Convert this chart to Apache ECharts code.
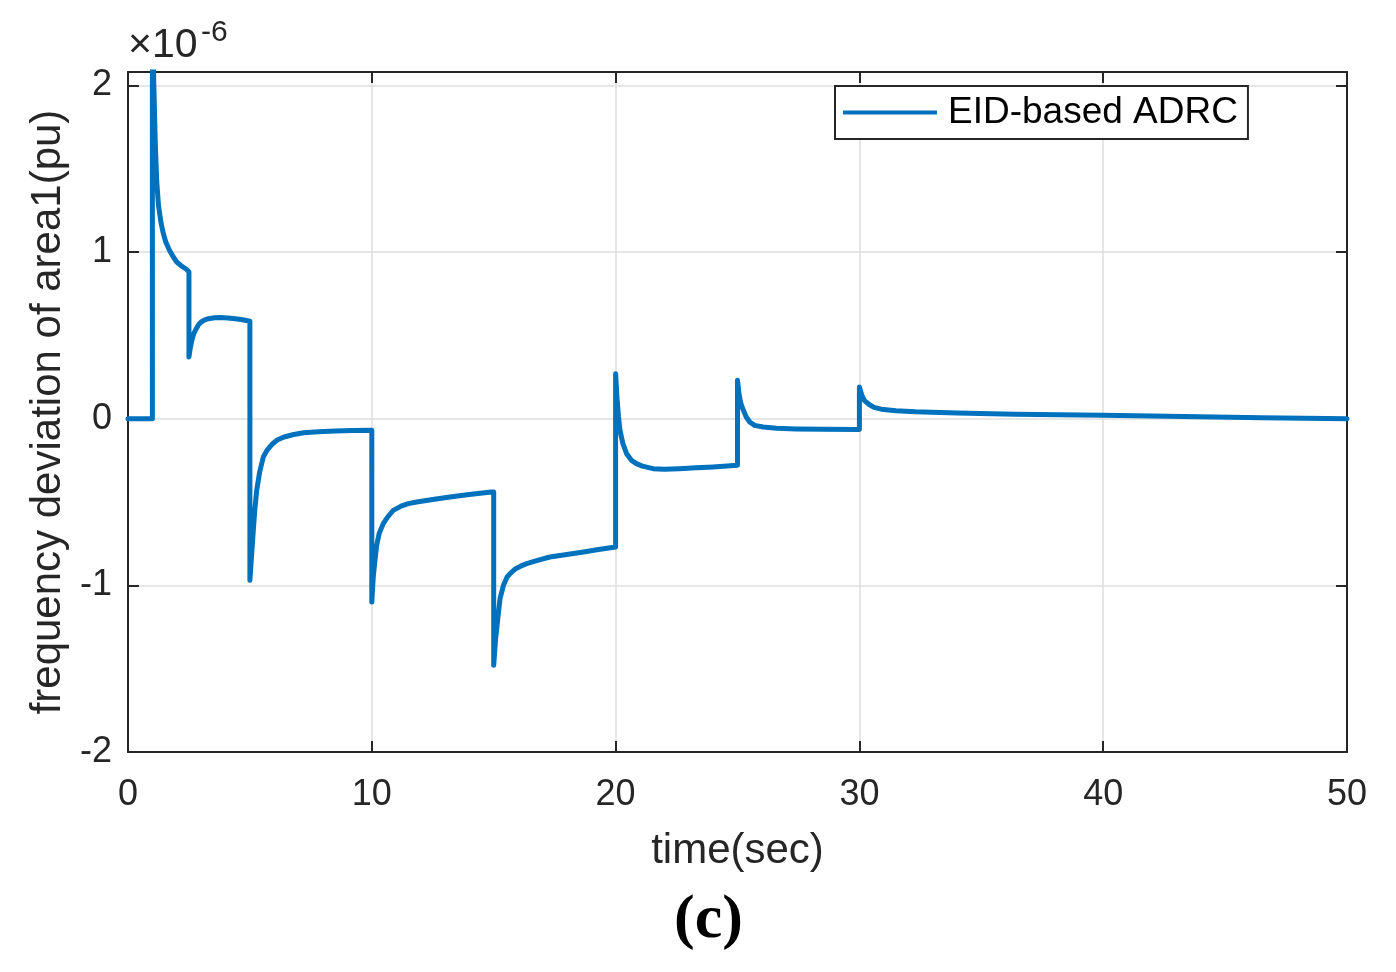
<!DOCTYPE html>
<html>
<head>
<meta charset="utf-8">
<script src="https://cdn.jsdelivr.net/npm/echarts@6/dist/echarts.min.js"></script>
<style>
html,body{margin:0;padding:0;background:#fff;}
#chart{width:1396px;height:972px;}
</style>
</head>
<body>
<div id="chart"></div>
<script>
// time (sec)
const times = [
  0, 1.0,
  1.0, 1.06, 1.12, 1.18, 1.25, 1.35, 1.45, 1.55, 1.7, 1.86, 2.0, 2.2, 2.41, 2.5,
  2.5, 2.55, 2.62, 2.7, 2.8, 2.9, 3.0, 3.15, 3.3, 3.55, 3.8, 4.1, 4.4, 4.7, 5.0,
  5.0, 5.07, 5.14, 5.2, 5.28, 5.4, 5.55, 5.7, 5.9, 6.1, 6.4, 6.8, 7.2, 7.8, 8.5, 9.2, 10.0,
  10.0, 10.06, 10.13, 10.2, 10.3, 10.47, 10.65, 10.88, 11.2, 11.5, 11.84, 12.5, 13.2, 14.0, 14.9, 15.0,
  15.0, 15.08, 15.19, 15.26, 15.4, 15.55, 15.67, 15.9, 16.1, 16.35, 16.8, 17.3, 18.0, 18.68, 19.3, 20.0,
  20.0, 20.06, 20.12, 20.18, 20.3, 20.45, 20.65, 20.85, 21.1, 21.53, 22.0, 22.6, 23.3, 24.0, 25.0,
  25.0, 25.06, 25.14, 25.24, 25.36, 25.5, 25.7, 26.05, 26.6, 27.4, 28.5, 30.0,
  30.0, 30.1, 30.2, 30.4, 30.6, 30.9, 31.5, 32.3, 34.0, 36.4, 40.0, 43.3, 46.5, 50.0];
// frequency deviation (x1e-6 pu)
const deviation = [
  0, 0,
  2.45, 2.0, 1.65, 1.42, 1.28, 1.18, 1.11, 1.06, 1.01, 0.97, 0.94, 0.915, 0.895, 0.88,
  0.37, 0.42, 0.47, 0.51, 0.54, 0.565, 0.58, 0.593, 0.60, 0.605, 0.607, 0.604, 0.60, 0.593, 0.585,
  -0.97, -0.82, -0.67, -0.55, -0.43, -0.32, -0.23, -0.19, -0.155, -0.13, -0.11, -0.095, -0.085, -0.078, -0.074, -0.071, -0.07,
  -1.10, -0.95, -0.85, -0.76, -0.69, -0.63, -0.59, -0.55, -0.525, -0.51, -0.50, -0.485, -0.47, -0.455, -0.44, -0.44,
  -1.48, -1.32, -1.17, -1.08, -1.0, -0.95, -0.93, -0.90, -0.885, -0.87, -0.85, -0.83, -0.815, -0.80, -0.785, -0.77,
  0.27, 0.12, 0.01, -0.07, -0.15, -0.21, -0.25, -0.27, -0.285, -0.30, -0.303, -0.30, -0.295, -0.29, -0.28,
  0.23, 0.15, 0.09, 0.05, 0.01, -0.02, -0.04, -0.05, -0.058, -0.062, -0.064, -0.065,
  0.19, 0.14, 0.11, 0.085, 0.068, 0.057, 0.048, 0.041, 0.034, 0.027, 0.021, 0.013, 0.006, 0.0];
const seriesName = 'EID-based ADRC';
const xTicks = [0, 10, 20, 30, 40, 50];
const yTicks = [-2, -1, 0, 1, 2];

const data = times.map((t, i) => [t, deviation[i]]);
const axisColor = '#262626';
const lineColor = '#0072BD';
const font = 'Liberation Sans, Arial, Helvetica, sans-serif';

const chart = echarts.init(document.getElementById('chart'), null, {renderer: 'canvas'});
const baseX = {
  type: 'value', min: xTicks[0], max: xTicks[xTicks.length - 1], interval: 10,
  axisLine: {show: true, onZero: false, lineStyle: {color: axisColor, width: 2}},
  axisTick: {show: true, inside: true, length: 11, lineStyle: {color: axisColor, width: 2}}
};
const baseY = {
  type: 'value', min: yTicks[0], max: 2.08, interval: 1,
  axisLine: {show: true, onZero: false, lineStyle: {color: axisColor, width: 2}},
  axisTick: {show: true, inside: true, length: 11, lineStyle: {color: axisColor, width: 2}}
};
const intOnly = v => (Math.abs(v - Math.round(v)) < 1e-9 ? String(Math.round(v)) : '');
chart.setOption({
  backgroundColor: '#ffffff',
  animation: false,
  grid: {left: 128, right: 49, top: 72, bottom: 220, containLabel: false},
  legend: {
    show: true, left: 835, top: 86,
    data: [{name: seriesName, icon: 'rect'}],
    itemWidth: 94, itemHeight: 4,
    itemStyle: {color: lineColor},
    lineStyle: {width: 0},
    padding: [8, 10, 8, 8],
    borderColor: axisColor, borderWidth: 2,
    backgroundColor: '#ffffff',
    textStyle: {fontFamily: font, fontSize: 37, color: '#000', padding: [0, 0, 0, 6]}
  },
  xAxis: [
    Object.assign({}, baseX, {
      position: 'bottom',
      name: 'time(sec)', nameLocation: 'middle', nameGap: 78,
      nameTextStyle: {fontFamily: font, fontSize: 42, color: axisColor},
      axisLabel: {show: true, margin: 25, fontFamily: font, fontSize: 36, color: axisColor, formatter: intOnly},
      splitLine: {show: true, lineStyle: {color: '#dedede', width: 1.5}}
    }),
    Object.assign({}, baseX, {
      position: 'top', axisLabel: {show: false}, splitLine: {show: false}
    })
  ],
  yAxis: [
    Object.assign({}, baseY, {
      position: 'left',
      name: 'frequency deviation of area1(pu)', nameLocation: 'middle', nameGap: 56,
      nameTextStyle: {fontFamily: font, fontSize: 42, color: axisColor},
      axisLabel: {show: true, margin: 16, fontFamily: font, fontSize: 36, color: axisColor, formatter: intOnly},
      splitLine: {show: true, lineStyle: {color: '#dedede', width: 1.5}}
    }),
    Object.assign({}, baseY, {
      position: 'right', axisLabel: {show: false}, splitLine: {show: false}
    })
  ],
  series: [{
    name: seriesName,
    type: 'line',
    xAxisIndex: 0, yAxisIndex: 0,
    data: data,
    symbol: 'none', showSymbol: false,
    clip: true,
    lineStyle: {color: lineColor, width: 5, join: 'round', cap: 'round'},
    itemStyle: {color: lineColor}
  }],
  graphic: [
    {
      type: 'text', left: 128, top: 25,
      style: {text: '×10', fontFamily: font, fontSize: 41, fill: axisColor}
    },
    {
      type: 'text', left: 201, top: 18,
      style: {text: '-6', fontFamily: font, fontSize: 30, fill: axisColor}
    },
    {
      type: 'text', left: 674, top: 890,
      style: {
        text: '(c)', fontFamily: 'Liberation Serif, DejaVu Serif, serif', fontWeight: 'bold',
        fontSize: 62, fill: '#000'
      }
    }
  ]
});
</script>
</body>
</html>
